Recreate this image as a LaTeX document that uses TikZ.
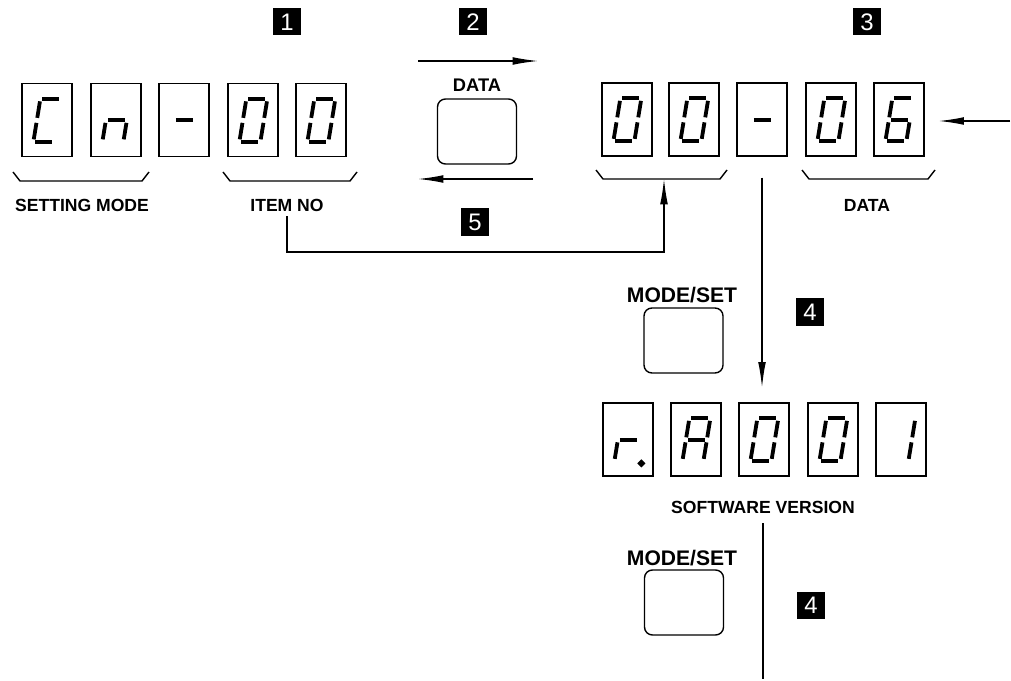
\documentclass[tikz,border=0pt]{standalone}
\usepackage{fontspec}
\setmainfont{Liberation Sans}
\usetikzlibrary{positioning,arrows.meta}

% segment ends inside a digit box (px, y down)
\expandafter\def\csname seg@a\endcsname{(21,16)--(38,16)}
\expandafter\def\csname seg@b\endcsname{(39.6,18.5)--(36.9,35)}
\expandafter\def\csname seg@c\endcsname{(36.1,40)--(33.4,56.5)}
\expandafter\def\csname seg@d\endcsname{(14,59)--(31,59)}
\expandafter\def\csname seg@e\endcsname{(15.1,40)--(12.4,56.5)}
\expandafter\def\csname seg@f\endcsname{(18.6,18.5)--(15.9,35)}
\expandafter\def\csname seg@g\endcsname{(17.5,37.5)--(34.5,37.5)}
\expandafter\def\csname seg@p\endcsname{(39,61) circle (1.4)}
\newcommand\segpath[1]{\csname seg@#1\endcsname}
\newcommand\showdigit[2]{%
  \begin{scope}[shift={(#1.north west)}]
    \foreach \s in {#2} \draw[segline] \segpath{\s};
  \end{scope}}

\begin{document}
\begin{tikzpicture}[x=0.025cm,y=-0.025cm,>=Latex,
  digbox/.style={draw,line width=0.9pt,minimum width=1.25cm,minimum height=1.825cm,inner sep=0pt},
  segline/.style={line width=2.7pt},
  numtag/.style={fill=black,text=white,minimum width=0.7cm,minimum height=0.675cm,inner sep=0pt,font=\fontsize{17}{17}\selectfont},
  button/.style={draw,line width=1pt,rounded corners=0.2cm,minimum width=1.975cm,minimum height=1.625cm},
  txtlbl/.style={font=\fontsize{12.5}{14}\selectfont\bfseries},
  btnlbl/.style={font=\fontsize{13}{15}\selectfont\bfseries},
  wire/.style={line width=0.9pt},
  arr/.style={wire,-{Latex[length=18pt,width=5.5pt]}},
  brk/.style={line width=1pt}]
  \useasboundingbox (0,0) rectangle (1011,681);

  % display rows
  \foreach \n/\x in {1/47,2/116,3/184,4/253,5/321} \node[digbox] (l\n) at (\x,120) {};
  \foreach \n/\x in {1/627,2/694,3/762,4/831,5/899} \node[digbox] (r\n) at (\x,119.5) {};
  \foreach \n/\x in {1/628,2/696,3/764,4/833,5/901} \node[digbox] (v\n) at (\x,439.5) {};

  \showdigit{l1}{a,d,e,f}
  \showdigit{l2}{c,e,g}
  \showdigit{l3}{g}
  \showdigit{l4}{a,b,c,d,e,f}
  \showdigit{l5}{a,b,c,d,e,f}
  \showdigit{r1}{a,b,c,d,e,f}
  \showdigit{r2}{a,b,c,d,e,f}
  \showdigit{r3}{g}
  \showdigit{r4}{a,b,c,d,e,f}
  \showdigit{r5}{a,c,d,e,f,g}
  \showdigit{v1}{e,g,p}
  \showdigit{v2}{a,b,c,e,f,g}
  \showdigit{v3}{a,b,c,d,e,f}
  \showdigit{v4}{a,b,c,d,e,f}
  \showdigit{v5}{b,c}

  % brackets under the groups
  \foreach \xa/\xb/\yt in {13/149/172,223/357/172,596/727/170,802/935/170}
    \draw[brk] (\xa,\yt) -- (\xa+7,\yt+9) -- (\xb-7,\yt+9) -- (\xb,\yt);

  \node[txtlbl] (setmode) at (82,205) {SETTING MODE};
  \node[txtlbl] (itemno) at (287,205) {ITEM NO};
  \node[txtlbl] (datalbl) at (867,205) {DATA};
  \node[txtlbl] (swver) at (763,507) {SOFTWARE VERSION};

  % keys
  \node[button] (databtn) at (477,131.5) {};
  \node[btnlbl] (datakey) at (477,85) {DATA};
  \node[button] (modebtn1) at (683.5,340.5) {};
  \node[btnlbl,font=\fontsize{15}{17}\selectfont\bfseries] (modekey1) at (682,295) {MODE/SET};
  \node[button] (modebtn2) at (684,602.5) {};
  \node[btnlbl,font=\fontsize{15}{17}\selectfont\bfseries] (modekey2) at (682,558) {MODE/SET};

  % step tags
  \node[numtag] (t1) at (287,22) {1};
  \node[numtag] (t2) at (473,22) {2};
  \node[numtag] (t3) at (867,22) {3};
  \node[numtag] (t4a) at (810,312) {4};
  \node[numtag] (t4b) at (811,605) {4};
  \node[numtag] (t5) at (475,222) {5};

  % arrows
  \coordinate (d2a) at (418,61);
  \coordinate (d2b) at (538,61);
  \draw[arr] (d2a) -- (d2b);
  \coordinate (d5a) at (533,179);
  \coordinate (d5b) at (418,179);
  \draw[arr] (d5a) -- (d5b);
  \coordinate (datain) at (1010,121);
  \draw[arr,shorten >=0.35cm] (datain) -- (r5.east |- datain);
  \draw[arr,shorten <=0.525cm,shorten >=0.375cm] (r3.south) -- (r3.south |- v3.north);
  \coordinate (loop5) at (664,252);
  \coordinate (br00) at (664,179);
  \draw[arr] (itemno.south) |- (loop5) -- (br00);
  \coordinate (vend) at (762,679);
  \draw[wire,shorten <=0.125cm] (swver.south) -- (swver.south |- vend);
\end{tikzpicture}
\end{document}
